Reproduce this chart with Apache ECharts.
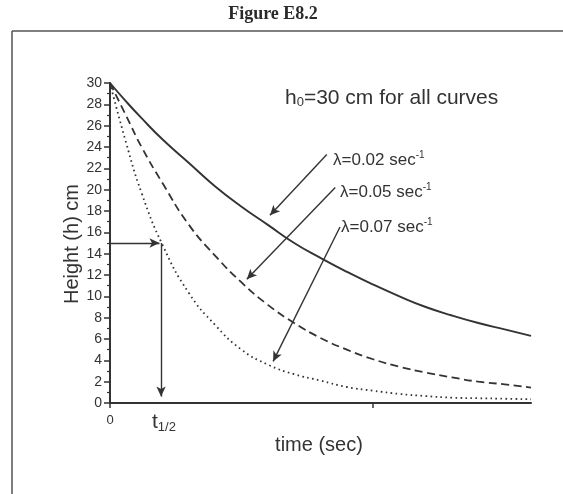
<!DOCTYPE html>
<html>
<head>
<meta charset="utf-8">
<script src="https://cdn.jsdelivr.net/npm/echarts@6/dist/echarts.min.js"></script>
<style>
  html, body { margin: 0; padding: 0; background: #fff; }
  #chart { width: 563px; height: 494px; }
</style>
</head>
<body>
<div id="chart"></div>
<script>
// time (sec) sample points
const times = [0, 3, 6, 10, 15, 20, 25, 30, 35, 40, 45, 50, 55, 60, 65, 70, 75, 80];
// height (cm) for each curve
const h002 = [30, 28.3, 26.7, 24.7, 22.5, 20.3, 18.4, 16.7, 15.0, 13.6, 12.3, 11.1, 10.0, 9.0, 8.2, 7.5, 6.9, 6.3];
const h005 = [30, 27.0, 24.0, 20.6, 16.7, 13.8, 11.3, 9.2, 7.5, 6.1, 5.0, 4.1, 3.4, 2.85, 2.4, 2.0, 1.75, 1.45];
const h007 = [30, 24.5, 19.7, 14.8, 10.3, 7.3, 5.0, 3.6, 2.7, 2.1, 1.5, 1.15, 0.85, 0.65, 0.5, 0.45, 0.4, 0.35];
const yTicks = [0, 30, 2];
const xTicks = [0, 50];
const halfLife = [9.7, 15];

const ink = "#333";
const font = "'Liberation Sans', Arial, sans-serif";

const chartDom = document.getElementById("chart");
const chart = echarts.init(chartDom, null, { renderer: "canvas" });

const pairs = (ys) => times.map((t, i) => [t, ys[i]]);

const arrowLine = (from, to) => [{ coord: from }, { coord: to }];

const option = {
  animation: false,
  backgroundColor: "#fff",
  grid: { left: 110, top: 83, right: 32, bottom: 91 },
  xAxis: {
    type: "value",
    min: 0,
    max: 80,
    interval: 50,
    axisLine: { lineStyle: { color: ink, width: 2 } },
    axisTick: { inside: false, length: 5, customValues: xTicks, lineStyle: { color: ink, width: 1.5 } },
    splitLine: { show: false },
    axisLabel: {
      color: ink, fontFamily: font, fontSize: 13, margin: 11,
      customValues: [0]
    }
  },
  yAxis: {
    type: "value",
    min: yTicks[0],
    max: yTicks[1],
    interval: yTicks[2],
    axisLine: { show: true, lineStyle: { color: ink, width: 2 } },
    axisTick: { show: true, inside: false, length: 6, lineStyle: { color: ink, width: 1.5 } },
    minorTick: { show: true, splitNumber: 2, length: 3, lineStyle: { color: ink, width: 1.2 } },
    splitLine: { show: false },
    axisLabel: { color: ink, fontFamily: font, fontSize: 14, margin: 8 }
  },
  series: [
    {
      name: "λ=0.02",
      type: "line",
      smooth: true,
      symbol: "none",
      data: pairs(h002),
      lineStyle: { color: ink, width: 1.9, type: "solid" },
      markLine: {
        silent: true,
        symbol: ["none", "arrow"],
        symbolSize: [7, 10],
        label: { show: false },
        lineStyle: { color: ink, width: 1.4, type: "solid" },
        data: [
          arrowLine([41.2, 23.3], [30.4, 17.6]),
          arrowLine([42.8, 20.2], [26.0, 11.6]),
          arrowLine([43.7, 16.5], [31.0, 3.9]),
          arrowLine([0, halfLife[1]], [halfLife[0] - 0.3, halfLife[1]]),
          arrowLine([halfLife[0], halfLife[1]], [halfLife[0], 0.6])
        ]
      }
    },
    {
      name: "λ=0.05",
      type: "line",
      smooth: true,
      symbol: "none",
      data: pairs(h005),
      lineStyle: { color: ink, width: 1.8, type: [8, 4.5] }
    },
    {
      name: "λ=0.07",
      type: "line",
      smooth: true,
      symbol: "none",
      data: pairs(h007),
      lineStyle: { color: ink, width: 1.8, type: [1.6, 3.4] }
    }
  ],
  graphic: [
    { type: "line", shape: { x1: 12, y1: 31, x2: 563, y2: 31 }, style: { stroke: "#555", lineWidth: 1.5 } },
    { type: "line", shape: { x1: 12, y1: 31, x2: 12, y2: 494 }, style: { stroke: "#555", lineWidth: 1.5 } },
    {
      type: "text", x: 273, y: 14,
      style: { text: "Figure E8.2", fontFamily: "'Liberation Serif', 'Times New Roman', serif", fontWeight: "bold", fontSize: 18, fill: "#2a2a2a", align: "center", verticalAlign: "middle" }
    },
    {
      type: "text", x: 285, y: 98,
      style: {
        text: "{a|h}{s|0}{a|=30 cm for all curves}",
        align: "left", verticalAlign: "middle",
        rich: {
          a: { fontFamily: font, fontSize: 21, fill: ink },
          s: { fontFamily: font, fontSize: 13, fill: ink, verticalAlign: "bottom", padding: [9, 0, 0, 0] }
        }
      }
    },
    {
      type: "text", x: 333, y: 160,
      style: {
        text: "{a|λ=0.02 sec}{p|-1}", align: "left", verticalAlign: "middle",
        rich: {
          a: { fontFamily: font, fontSize: 17, fill: ink },
          p: { fontFamily: font, fontSize: 10, fill: ink, verticalAlign: "top", padding: [0, 0, 9, 0] }
        }
      }
    },
    {
      type: "text", x: 340, y: 192,
      style: {
        text: "{a|λ=0.05 sec}{p|-1}", align: "left", verticalAlign: "middle",
        rich: {
          a: { fontFamily: font, fontSize: 17, fill: ink },
          p: { fontFamily: font, fontSize: 10, fill: ink, verticalAlign: "top", padding: [0, 0, 9, 0] }
        }
      }
    },
    {
      type: "text", x: 341, y: 227,
      style: {
        text: "{a|λ=0.07 sec}{p|-1}", align: "left", verticalAlign: "middle",
        rich: {
          a: { fontFamily: font, fontSize: 17, fill: ink },
          p: { fontFamily: font, fontSize: 10, fill: ink, verticalAlign: "top", padding: [0, 0, 9, 0] }
        }
      }
    },
    {
      type: "text", x: 72, y: 244, rotation: Math.PI / 2,
      style: { text: "Height (h) cm", fontFamily: font, fontSize: 20, fill: ink, align: "center", verticalAlign: "middle" }
    },
    {
      type: "text", x: 319, y: 445,
      style: { text: "time (sec)", fontFamily: font, fontSize: 20, fill: ink, align: "center", verticalAlign: "middle" }
    },
    {
      type: "text", x: 152, y: 422,
      style: {
        text: "{a|t}{s|1/2}", align: "left", verticalAlign: "middle",
        rich: {
          a: { fontFamily: font, fontSize: 21, fill: ink },
          s: { fontFamily: font, fontSize: 13, fill: ink, verticalAlign: "bottom", padding: [10, 0, 0, 0] }
        }
      }
    }
  ]
};

chart.setOption(option);
</script>
</body>
</html>
